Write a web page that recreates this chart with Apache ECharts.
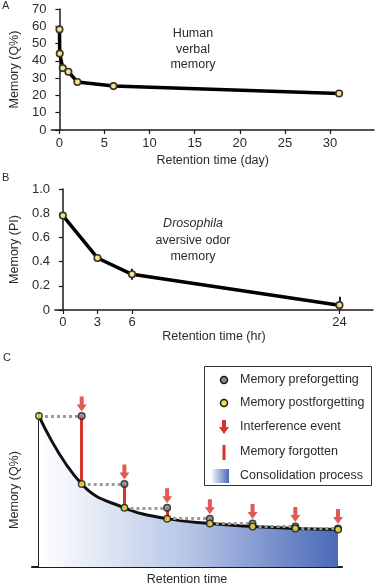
<!DOCTYPE html>
<html>
<head>
<meta charset="utf-8">
<script src="https://cdn.jsdelivr.net/npm/echarts@6/dist/echarts.min.js"></script>
<style>
html,body{margin:0;padding:0;background:#fff;}
#chart{width:386px;height:587px;}
</style>
</head>
<body>
<div id="chart"></div>
<script>
// Panel A: human verbal memory
const aTime = [0.014, 0.042, 0.375, 1, 2, 6, 31];
const aMemory = [58.2, 44.2, 35.8, 33.7, 27.8, 25.4, 21.1];
const aXTicks = [0, 5, 10, 15, 20, 25, 30];
// Panel B: Drosophila aversive odor memory
const bTime = [0, 3, 6, 24];
const bMemory = [0.78, 0.43, 0.295, 0.04];
const bErrLow = [0.75, 0.40, 0.25, 0.0];
const bErrHigh = [0.80, 0.46, 0.34, 0.11];
const bXTicks = [0, 3, 6, 24];
// Panel C: conceptual model
const cEvent = [0, 1, 2, 3, 4, 5, 6, 7];
const cPost = [153, 84, 60, 49, 44, 41, 39, 38];
const cPre = [null, 153, 84, 60, 49, 44, 41, 39];

const FONT = 'Liberation Sans, Arial, sans-serif';
const txt = '#2b2b2b';
const red = '#d7322b';

const chart = echarts.init(document.getElementById('chart'), null, {renderer: 'canvas'});

function axisBase(extra) {
  return Object.assign({
    axisLine: {show: true, lineStyle: {color: '#1a1a1a', width: 1.5}},
    axisTick: {show: true, inside: false, length: 4, lineStyle: {color: '#1a1a1a', width: 1.2}},
    axisLabel: {color: txt, fontSize: 13, fontFamily: FONT},
    splitLine: {show: false},
    nameTextStyle: {color: txt, fontSize: 12.5, fontFamily: FONT}
  }, extra);
}

const aPts = aTime.map((t, i) => [t, aMemory[i]]);
const bPts = bTime.map((t, i) => [t, bMemory[i]]);
const bErr = bTime.map((t, i) => ({coords: [[t, bErrLow[i]], [t, bErrHigh[i]]]}));
const cPostPts = cEvent.map((x, i) => [x, cPost[i]]);
const cPrePts = cEvent.map((x, i) => [x, cPre[i]]).filter(p => p[1] !== null);
const cDotted = cEvent.slice(1).map((x, k) => ({coords: [[cEvent[k], cPost[k]], [x + 0.02, cPost[k]]]}));
const cForgot = cEvent.slice(1).map((x, k) => ({coords: [[x, cPre[k + 1]], [x, cPost[k + 1]]]}));

const arrowPath = 'path://M3,0 L7,0 L7,8 L10,8 L5,15 L0,8 L3,8 Z';
const ptStyle = {color: '#efe49a', borderColor: '#3b3420', borderWidth: 1.6};

const option = {
  animation: false,
  backgroundColor: '#fff',
  grid: [
    {left: 51, top: 9, width: 323, height: 121},
    {left: 51, top: 189, width: 322, height: 121},
    {left: 30, top: 413, width: 312, height: 156}
  ],
  xAxis: [
    axisBase({gridIndex: 0, type: 'value', min: -0.886, max: 34.87,
      name: 'Retention time (day)', nameLocation: 'middle', nameGap: 24,
      axisTick: {show: true, length: 4, customValues: aXTicks, lineStyle: {color: '#1a1a1a', width: 1.2}},
      axisLabel: {color: txt, fontSize: 13, fontFamily: FONT, margin: 7, customValues: aXTicks}}),
    axisBase({gridIndex: 1, type: 'value', min: -0.686, max: 26.91,
      name: 'Retention time (hr)', nameLocation: 'middle', nameGap: 16,
      axisTick: {show: true, length: 4, customValues: bXTicks, lineStyle: {color: '#1a1a1a', width: 1.2}},
      axisLabel: {color: txt, fontSize: 13, fontFamily: FONT, margin: 6, customValues: bXTicks}}),
    {gridIndex: 2, type: 'value', min: -0.163, max: 7.093,
      name: 'Retention time', nameLocation: 'middle', nameGap: 6,
      nameTextStyle: {color: txt, fontSize: 12.5, fontFamily: FONT},
      axisLine: {show: true, lineStyle: {color: '#1a1a1a', width: 2}},
      axisTick: {show: false}, axisLabel: {show: false}, splitLine: {show: false}}
  ],
  yAxis: [
    axisBase({gridIndex: 0, type: 'value', min: 0, max: 70, interval: 10,
      name: 'Memory (Q%)', nameLocation: 'middle', nameGap: 26, nameRotate: 90,
      axisLabel: {color: txt, fontSize: 13, fontFamily: FONT, margin: 5}}),
    axisBase({gridIndex: 1, type: 'value', min: 0, max: 1, interval: 0.2,
      name: 'Memory (PI)', nameLocation: 'middle', nameGap: 26, nameRotate: 90,
      axisLabel: {color: txt, fontSize: 13, fontFamily: FONT, margin: 5,
        formatter: v => v === 0 ? '0' : v.toFixed(1)}}),
    {gridIndex: 2, type: 'value', min: 0, max: 156,
      name: 'Memory (Q%)', nameLocation: 'middle', nameGap: 11, nameRotate: 90,
      nameTextStyle: {color: txt, fontSize: 12.5, fontFamily: FONT},
      axisLine: {show: true, lineStyle: {color: '#1a1a1a', width: 2}},
      axisTick: {show: false}, axisLabel: {show: false}, splitLine: {show: false}}
  ],
  series: [
    {type: 'line', xAxisIndex: 0, yAxisIndex: 0, data: aPts,
      lineStyle: {color: '#000', width: 3.5}, symbol: 'circle', symbolSize: 6.5,
      itemStyle: ptStyle, z: 3},
    {type: 'lines', coordinateSystem: 'cartesian2d', xAxisIndex: 1, yAxisIndex: 1,
      data: bErr, lineStyle: {color: '#222', width: 2, opacity: 1}, z: 2},
    {type: 'line', xAxisIndex: 1, yAxisIndex: 1, data: bPts,
      lineStyle: {color: '#000', width: 3.5}, symbol: 'circle', symbolSize: 6.5,
      itemStyle: ptStyle, z: 3},
    // Panel C
    {type: 'line', xAxisIndex: 2, yAxisIndex: 2, data: cPostPts, smooth: 0.45,
      lineStyle: {color: '#111', width: 3}, symbol: 'none', z: 2,
      areaStyle: {opacity: 1, color: new echarts.graphic.LinearGradient(0, 0, 1, 0, [
        {offset: 0, color: '#ffffff'},
        {offset: 0.5, color: '#b7c6e7'},
        {offset: 1, color: '#4a69b8'}
      ])}},
    {type: 'lines', coordinateSystem: 'cartesian2d', xAxisIndex: 2, yAxisIndex: 2,
      data: cDotted, lineStyle: {color: '#9a9a9a', width: 3, type: [3, 3], opacity: 1}, z: 3},
    {type: 'lines', coordinateSystem: 'cartesian2d', xAxisIndex: 2, yAxisIndex: 2,
      data: cForgot, lineStyle: {color: red, width: 3, opacity: 1}, z: 4},
    {type: 'scatter', xAxisIndex: 2, yAxisIndex: 2, data: cPrePts,
      symbol: arrowPath, symbolSize: [10, 15], symbolOffset: [0, -12],
      itemStyle: {color: red}, z: 5},
    {type: 'scatter', xAxisIndex: 2, yAxisIndex: 2, data: cPrePts,
      symbol: 'circle', symbolSize: 6.5,
      itemStyle: {color: '#8a8a8a', borderColor: '#1a1a1a', borderWidth: 1.5}, z: 6},
    {type: 'scatter', xAxisIndex: 2, yAxisIndex: 2, data: cPostPts,
      symbol: 'circle', symbolSize: 6.5,
      itemStyle: {color: '#f3e340', borderColor: '#1a1a1a', borderWidth: 1.5}, z: 7}
  ],
  graphic: [
    {type: 'text', left: 2, top: 0, style: {text: 'A', fontSize: 11, fontFamily: FONT, fill: txt}},
    {type: 'text', left: 2, top: 172, style: {text: 'B', fontSize: 11, fontFamily: FONT, fill: txt}},
    {type: 'text', left: 3, top: 352, style: {text: 'C', fontSize: 11, fontFamily: FONT, fill: txt}},
    {type: 'text', x: 193, y: 26, style: {text: 'Human\nverbal\nmemory', align: 'center', fontSize: 12.5, lineHeight: 15.5, fontFamily: FONT, fill: txt}},
    {type: 'text', x: 193, y: 217, style: {text: 'Drosophila', align: 'center', fontSize: 12.5, fontStyle: 'italic', fontFamily: FONT, fill: txt}},
    {type: 'text', x: 193, y: 233, style: {text: 'aversive odor\nmemory', align: 'center', fontSize: 12.5, lineHeight: 15.5, fontFamily: FONT, fill: txt}},
    // Legend of panel C
    {type: 'rect', shape: {x: 204.5, y: 366.5, width: 167, height: 119},
      style: {fill: '#fff', stroke: '#333', lineWidth: 1}, z: 10},
    {type: 'circle', shape: {cx: 224, cy: 380, r: 3.5}, style: {fill: '#8a8a8a', stroke: '#1a1a1a', lineWidth: 1.5}, z: 11},
    {type: 'circle', shape: {cx: 224, cy: 403, r: 3.5}, style: {fill: '#f3e340', stroke: '#1a1a1a', lineWidth: 1.5}, z: 11},
    {type: 'polygon', shape: {points: [[222, 420], [226, 420], [226, 427], [229, 427], [224, 434], [219, 427], [222, 427]]}, style: {fill: red}, z: 11},
    {type: 'rect', shape: {x: 222.5, y: 445, width: 3, height: 15}, style: {fill: red}, z: 11},
    {type: 'rect', shape: {x: 212, y: 469, width: 17, height: 14},
      style: {fill: new echarts.graphic.LinearGradient(0, 0, 1, 0, [
        {offset: 0, color: '#eef2fa'}, {offset: 1, color: '#4a69b8'}])}, z: 11},
    {type: 'text', x: 240, y: 380, style: {text: 'Memory preforgetting', verticalAlign: 'middle', fontSize: 12.5, fontFamily: FONT, fill: txt}, z: 11},
    {type: 'text', x: 240, y: 403, style: {text: 'Memory postforgetting', verticalAlign: 'middle', fontSize: 12.5, fontFamily: FONT, fill: txt}, z: 11},
    {type: 'text', x: 240, y: 427, style: {text: 'Interference event', verticalAlign: 'middle', fontSize: 12.5, fontFamily: FONT, fill: txt}, z: 11},
    {type: 'text', x: 240, y: 452, style: {text: 'Memory forgotten', verticalAlign: 'middle', fontSize: 12.5, fontFamily: FONT, fill: txt}, z: 11},
    {type: 'text', x: 240, y: 476, style: {text: 'Consolidation process', verticalAlign: 'middle', fontSize: 12.5, fontFamily: FONT, fill: txt}, z: 11}
  ]
};
chart.setOption(option);
</script>
</body>
</html>
